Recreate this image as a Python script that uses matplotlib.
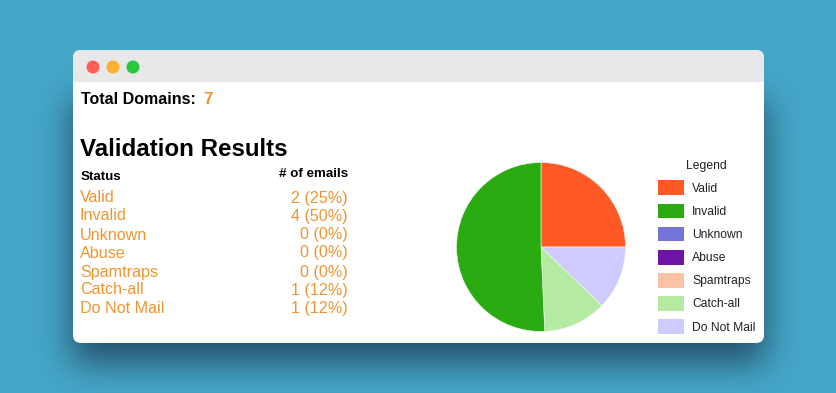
import matplotlib
matplotlib.use("Agg")
import matplotlib.pyplot as plt
from matplotlib.patches import FancyBboxPatch, Circle, Rectangle, Patch
import numpy as np

plt.rcParams['font.family'] = ['Liberation Sans', 'DejaVu Sans']

W, H = 837, 393

statuses = ["Valid", "Invalid", "Unknown", "Abuse", "Spamtraps", "Catch-all", "Do Not Mail"]
counts = ["2 (25%)", "4 (50%)", "0 (0%)", "0 (0%)", "0 (0%)", "1 (12%)", "1 (12%)"]
colors = ["#FF5A26", "#2BAB12", "#7474D8", "#6E14A6", "#FBC3A6", "#B5EAA2", "#D0CBFF"]
# share of the pie as drawn
pie_share = [25.0, 50.7, 0, 0, 0, 12.1, 12.2]
total_domains = "7"

orange = "#EE9530"


def blur(a, r):
    # three box passes is close enough to a gaussian
    k = np.ones(2 * r + 1) / (2 * r + 1)
    for _ in range(3):
        a = np.apply_along_axis(lambda m: np.convolve(m, k, mode="same"), 0, a)
        a = np.apply_along_axis(lambda m: np.convolve(m, k, mode="same"), 1, a)
    return a


# background with window shadow
bg = np.zeros((H, W, 3))
bg[..., 0] = 0x45 / 255
bg[..., 1] = 0xA6 / 255
bg[..., 2] = 0xC8 / 255
pad = 60
mask = np.zeros((H + 2 * pad, W + 2 * pad))
mask[100 + pad:363 + pad, 72 + pad:765 + pad] = 1
shadow = blur(mask, 16)[pad:-pad, pad:-pad]
dark = np.array([0x23, 0x50, 0x69]) / 255
bg = bg * (1 - shadow[..., None]) + dark * shadow[..., None]

fig = plt.figure(figsize=(W / 100, H / 100), dpi=100)
ax = fig.add_axes([0, 0, 1, 1])
ax.axis("off")
ax.imshow(bg, extent=(0, W, H, 0), aspect="auto", zorder=0)
ax.set_xlim(0, W)
ax.set_ylim(H, 0)

# window
win = FancyBboxPatch((73 + 8, 50 + 8), 691 - 16, 293 - 16, boxstyle="round,pad=8,rounding_size=8",
                     fc="white", ec="none", zorder=1)
ax.add_patch(win)
bar = FancyBboxPatch((73 + 8, 50 + 8), 691 - 16, 293 - 16, boxstyle="round,pad=8,rounding_size=8",
                     fc="#E8E8E8", ec="none", zorder=2)
ax.add_patch(bar)
bar.set_clip_path(Rectangle((73, 50), 691, 32, transform=ax.transData))
for x, c in zip([93, 113, 133], ["#FF5F57", "#FFB02E", "#27C93F"]):
    ax.add_patch(Circle((x, 67), 6.5, fc=c, ec="none", zorder=3))

# left side text
ax.text(81, 99.5, "Total Domains:", fontsize=11.5, fontweight="bold", color="black", va="center", zorder=4)
ax.text(203, 99.5, total_domains, fontsize=12.2, fontweight="bold", color=orange, va="center", zorder=4)
ax.text(80, 150, "Validation Results", fontsize=17.4, fontweight="bold", color="black", va="center", zorder=4)
ax.text(81, 177, "Status", fontsize=9.6, fontweight="bold", color="black", va="center", zorder=4)
ax.text(348, 174, "# of emails", fontsize=9.6, fontweight="bold", color="black", va="center", ha="right", zorder=4)

row_y = [198, 216, 235, 253, 272, 290, 308.5]
for s, c, y in zip(statuses, counts, row_y):
    ax.text(80, y, s, fontsize=11.6, color=orange, va="center", zorder=4)
    ax.text(348, y, c, fontsize=11.6, color=orange, va="center", ha="right", zorder=4)

# pie, clockwise from top: Valid, Do Not Mail, Catch-all, ... Invalid
order = [0, 6, 5, 4, 3, 2, 1]
cx, cy, r = 541, 247, 84.5
pie_ax = fig.add_axes([(cx - r) / W, 1 - (cy + r) / H, 2 * r / W, 2 * r / H])
pie_ax.pie([pie_share[i] for i in order], colors=[colors[i] for i in order], startangle=90,
           counterclock=False, radius=1, wedgeprops={"linewidth": 0.4, "edgecolor": "#F4F8F0"})
pie_ax.set_xlim(-1, 1)
pie_ax.set_ylim(-1, 1)

# legend
handles = [Patch(fc=c, ec="none") for c in colors]
leg = ax.legend(handles, statuses, loc="upper left", bbox_to_anchor=(658 / W, 1 - 160 / H), frameon=False,
                title="Legend", fontsize=8.7, title_fontsize=8.7, handlelength=2.15, handleheight=1.5,
                handletextpad=0.66, labelspacing=0.695, borderpad=0, borderaxespad=0)
leg.set_zorder(5)
for t in leg.get_texts():
    t.set_color("#222222")
leg.get_title().set_color("#222222")

fig.savefig("out.png", dpi=100)
